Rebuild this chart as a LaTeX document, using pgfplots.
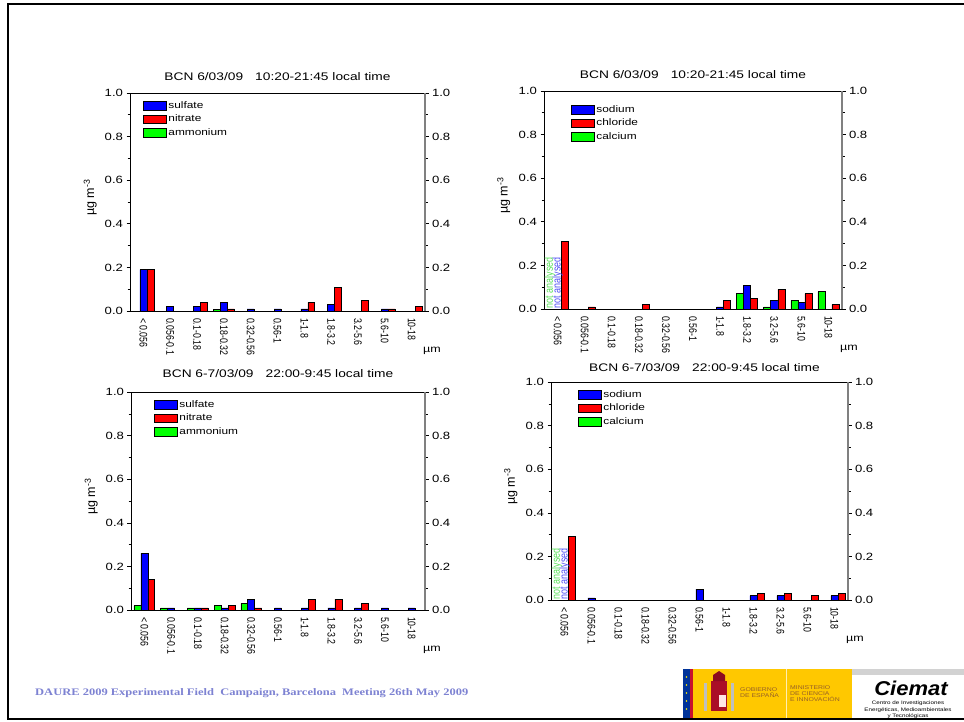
\documentclass[border=0pt]{standalone}
\usepackage{fontspec}
\setmainfont{Liberation Sans}[FakeStretch=1.25]
\newfontfamily\plainsans{Liberation Sans}
\newfontfamily\condsans{Liberation Sans}[FakeStretch=0.8]
\newfontfamily\footserif{Liberation Serif}[FakeStretch=1.25]
\newfontfamily\logobold{Liberation Sans}[FakeStretch=1.1]
\usepackage{pgfplots}
\pgfplotsset{compat=1.18}
\definecolor{barblue}{RGB}{0,0,255}
\definecolor{barred}{RGB}{255,0,0}
\definecolor{bargreen}{RGB}{0,255,0}
\definecolor{footblue}{RGB}{125,130,210}
\definecolor{spainyellow}{RGB}{255,200,0}
\definecolor{spainred}{RGB}{200,16,46}
\definecolor{eublue}{RGB}{0,51,153}
\definecolor{nagreen}{RGB}{90,225,90}
\definecolor{nablue}{RGB}{80,80,245}
\definecolor{logotext}{RGB}{150,95,40}

\tikzset{natext/.style={rotate=90, anchor=west, inner sep=0.5pt, font=\condsans\fontsize{11.2}{12}\selectfont}}

\pgfplotsset{
  common/.style={
    scale only axis, height=218pt, anchor=south west,
    xmin=-0.5, xmax=10.5, ymin=0, ymax=1,
    tick align=outside, major tick length=3.5pt, minor tick length=2.5pt,
    ytick={0,0.2,0.4,0.6,0.8,1}, minor ytick={0.1,0.3,0.5,0.7,0.9},
    /pgf/number format/assume math mode=true,
    yticklabel style={font=\fontsize{10.5}{12}\selectfont,
      /pgf/number format/fixed, /pgf/number format/fixed zerofill,
      /pgf/number format/precision=1},
    tick style={black, line width=0.6pt},
  },
  mainax/.style={
    common,
    axis line style={line width=0.8pt},
    ytick pos=left,
    xtick={0,1,2,3,4,5,6,7,8,9,10},
    xticklabels={< 0.056,0.056-0.1,0.1-0.18,0.18-0.32,0.32-0.56,0.56-1,1-1.8,1.8-3.2,3.2-5.6,5.6-10,10-18},
    x tick style={draw=none}, xtick pos=bottom,
    xticklabel style={font=\condsans\fontsize{11}{12}\selectfont, rotate=-90, anchor=west},
    ylabel={µg m\textsuperscript{-3}},
    ylabel style={font=\plainsans\fontsize{12.5}{14}\selectfont, at={(axis description cs:-0.135,0.52)}, anchor=center},
    xlabel={µm},
    xlabel style={font=\fontsize{10}{12}\selectfont, at={(axis description cs:1,0)}, anchor=center, xshift=7pt, yshift=-40pt},
    title style={font=\fontsize{11}{13}\selectfont, at={(axis description cs:0.5,1)}, anchor=south},
    legend style={at={(axis description cs:0,1)}, anchor=north west, xshift=13pt, yshift=-7pt,
      draw=none, fill=none, font=\fontsize{9.5}{10}\selectfont, row sep=2pt, inner sep=0pt,
      nodes={inner sep=1.5pt}, /tikz/every even column/.append style={column sep=3pt}},
    legend cell align=left,
  },
  rightax/.style={
    common, axis x line=none, axis y line*=right,
    axis line style={gray, line width=1.4pt}, xtick=\empty,
  },
  gbar/.style={ybar, bar width=0.26, bar shift=-0.26, fill=bargreen, draw=black, line width=0.6pt, forget plot},
  bbar/.style={ybar, bar width=0.26, bar shift=0, fill=barblue, draw=black, line width=0.6pt, forget plot},
  rbar/.style={ybar, bar width=0.26, bar shift=0.26, fill=barred, draw=black, line width=0.6pt, forget plot},
}

\begin{document}
\begin{tikzpicture}
\path[use as bounding box] (0,0) rectangle (964pt,721pt);
% slide frame
\draw[line width=2pt, black] (964pt,717.3pt) -- (8.3pt,717.3pt) -- (8.3pt,1.7pt) -- (964pt,1.7pt);

% ---------------- Panel 1 ----------------
\begin{axis}[mainax, at={(130pt,410pt)}, width=295pt,
  title={BCN 6/03/09\hspace{1.1em}10:20-21:45 local time}, title style={yshift=2.5pt}]
\addlegendimage{legend image code/.code={\draw[fill=barblue,draw=black,line width=0.7pt] (0pt,-4.3pt) rectangle (23pt,4.3pt);}}
\addlegendentry{sulfate}
\addlegendimage{legend image code/.code={\draw[fill=barred,draw=black,line width=0.7pt] (0pt,-4.3pt) rectangle (23pt,4.3pt);}}
\addlegendentry{nitrate}
\addlegendimage{legend image code/.code={\draw[fill=bargreen,draw=black,line width=0.7pt] (0pt,-4.3pt) rectangle (23pt,4.3pt);}}
\addlegendentry{ammonium}
\addplot[gbar] coordinates {(3,0.01)};
\addplot[bbar] coordinates {(0,0.19) (1,0.02) (2,0.02) (3,0.04) (4,0.01) (5,0.01) (6,0.01) (7,0.03) (9,0.01)};
\addplot[rbar] coordinates {(0,0.19) (2,0.04) (3,0.01) (6,0.04) (7,0.11) (8,0.05) (9,0.01) (10,0.02)};
\end{axis}
\begin{axis}[rightax, at={(130pt,410pt)}, width=295pt]
\end{axis}

% ---------------- Panel 2 ----------------
\begin{axis}[mainax, at={(544pt,412pt)}, width=298pt,
  title={BCN 6/03/09\hspace{1.1em}10:20-21:45 local time}, title style={yshift=2.5pt},
  legend style={xshift=14pt, yshift=-6pt}]
\addlegendimage{legend image code/.code={\draw[fill=barblue,draw=black,line width=0.7pt] (0pt,-4.3pt) rectangle (23pt,4.3pt);}}
\addlegendentry{sodium}
\addlegendimage{legend image code/.code={\draw[fill=barred,draw=black,line width=0.7pt] (0pt,-4.3pt) rectangle (23pt,4.3pt);}}
\addlegendentry{chloride}
\addlegendimage{legend image code/.code={\draw[fill=bargreen,draw=black,line width=0.7pt] (0pt,-4.3pt) rectangle (23pt,4.3pt);}}
\addlegendentry{calcium}
\addplot[gbar] coordinates {(7,0.07) (8,0.01) (9,0.04) (10,0.08)};
\addplot[bbar] coordinates {(6,0.01) (7,0.11) (8,0.04) (9,0.03)};
\addplot[rbar] coordinates {(0,0.31) (1,0.01) (3,0.02) (6,0.04) (7,0.05) (8,0.09) (9,0.07) (10,0.02)};
\node[natext, text=nagreen] at (axis cs:-0.28,0) {not analysed};
\node[natext, text=nablue] at (axis cs:0.01,0) {not analysed};
\end{axis}
\begin{axis}[rightax, at={(544pt,412pt)}, width=298pt]
\end{axis}

% ---------------- Panel 3 ----------------
\begin{axis}[mainax, at={(131pt,111pt)}, width=294pt,
  title={BCN 6-7/03/09\hspace{1.1em}22:00-9:45 local time}, title style={yshift=5pt},
  legend style={xshift=10pt}]
\addlegendimage{legend image code/.code={\draw[fill=barblue,draw=black,line width=0.7pt] (0pt,-4.3pt) rectangle (23pt,4.3pt);}}
\addlegendentry{sulfate}
\addlegendimage{legend image code/.code={\draw[fill=barred,draw=black,line width=0.7pt] (0pt,-4.3pt) rectangle (23pt,4.3pt);}}
\addlegendentry{nitrate}
\addlegendimage{legend image code/.code={\draw[fill=bargreen,draw=black,line width=0.7pt] (0pt,-4.3pt) rectangle (23pt,4.3pt);}}
\addlegendentry{ammonium}
\addplot[gbar] coordinates {(0,0.02) (1,0.01) (2,0.01) (3,0.02) (4,0.03)};
\addplot[bbar] coordinates {(0,0.26) (1,0.01) (2,0.01) (3,0.01) (4,0.05) (5,0.01) (6,0.01) (7,0.01) (8,0.01) (9,0.01) (10,0.01)};
\addplot[rbar] coordinates {(0,0.14) (2,0.01) (3,0.02) (4,0.01) (6,0.05) (7,0.05) (8,0.03)};
\end{axis}
\begin{axis}[rightax, at={(131pt,111pt)}, width=294pt]
\end{axis}

% ---------------- Panel 4 ----------------
\begin{axis}[mainax, at={(551pt,121pt)}, width=297pt,
  title={BCN 6-7/03/09\hspace{1.1em}22:00-9:45 local time}, title style={yshift=0.5pt, xshift=5pt},
  legend style={xshift=14pt}]
\addlegendimage{legend image code/.code={\draw[fill=barblue,draw=black,line width=0.7pt] (0pt,-4.3pt) rectangle (23pt,4.3pt);}}
\addlegendentry{sodium}
\addlegendimage{legend image code/.code={\draw[fill=barred,draw=black,line width=0.7pt] (0pt,-4.3pt) rectangle (23pt,4.3pt);}}
\addlegendentry{chloride}
\addlegendimage{legend image code/.code={\draw[fill=bargreen,draw=black,line width=0.7pt] (0pt,-4.3pt) rectangle (23pt,4.3pt);}}
\addlegendentry{calcium}
\addplot[bbar] coordinates {(1,0.01) (5,0.05) (7,0.02) (8,0.02) (10,0.02)};
\addplot[rbar] coordinates {(0,0.29) (7,0.03) (8,0.03) (9,0.02) (10,0.03)};
\node[natext, text=nagreen] at (axis cs:-0.28,0) {not analysed};
\node[natext, text=nablue] at (axis cs:0.01,0) {not analysed};
\end{axis}
\begin{axis}[rightax, at={(551pt,121pt)}, width=297pt]
\end{axis}

% ---------------- Footer ----------------
\node[anchor=west, inner sep=0pt, text=footblue, font=\footserif\bfseries\fontsize{10}{12}\selectfont] at (35pt,28pt)
  {DAURE 2009 Experimental Field\ \ Campaign, Barcelona\ \ Meeting 26th May 2009};
% logos
\fill[eublue] (683pt,3pt) rectangle (690pt,52pt);
\foreach \yy in {12,20,28,36,44} {\fill[yellow] (686.5pt,\yy pt) circle (0.8pt);}
\fill[spainred] (690pt,3pt) rectangle (693pt,52pt);
\fill[spainyellow] (693pt,3pt) rectangle (852pt,52pt);
\draw[white!70!spainyellow, line width=0.8pt] (786pt,3pt) -- (786pt,52pt);
% coat of arms (simplified)
\fill[spainred!85!black] (711pt,10pt) rectangle (727pt,40pt);
\fill[gray!50] (704pt,10pt) rectangle (707pt,38pt);
\fill[gray!50] (731pt,10pt) rectangle (734pt,38pt);
\fill[spainred!70!black] (713pt,40pt) -- (713pt,46pt) -- (719pt,50pt) -- (725pt,46pt) -- (725pt,40pt) -- cycle;
\fill[white!60!pink] (719pt,14pt) rectangle (726pt,26pt);
\node[anchor=west, inner sep=0pt, text=logotext, font=\fontsize{5.5}{6}\selectfont, align=left] at (740pt,28pt) {GOBIERNO\\DE ESPAÑA};
\node[anchor=west, inner sep=0pt, text=logotext, font=\fontsize{5.5}{6}\selectfont, align=left] at (790pt,27pt) {MINISTERIO\\DE CIENCIA\\E INNOVACIÓN};
\fill[gray!35] (852pt,46pt) rectangle (964pt,52pt);
\node[anchor=center, inner sep=0pt, font=\logobold\bfseries\itshape\fontsize{20}{22}\selectfont] at (911pt,33pt) {Ciemat};
\node[anchor=center, inner sep=0pt, font=\fontsize{5}{6.5}\selectfont, align=center] at (908pt,11pt) {Centro de Investigaciones\\Energéticas, Medioambientales\\y Tecnológicas};
\end{tikzpicture}
\end{document}
